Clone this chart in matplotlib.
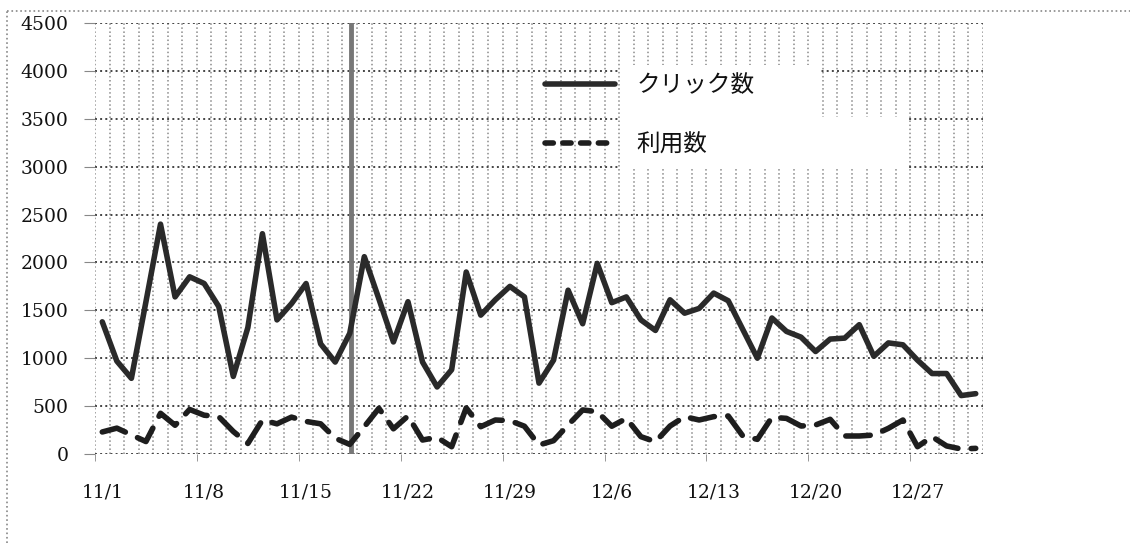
import numpy as np
import matplotlib.pyplot as plt
from matplotlib.patches import Rectangle
from matplotlib.lines import Line2D

# 11/1 - 12/31 の日別データ
clicks = [1380, 970, 790, 1590, 2400, 1640, 1850, 1780, 1540, 810,
          1320, 2300, 1400, 1570, 1780, 1150, 960, 1260, 2060, 1620,
          1170, 1590, 960, 700, 880, 1900, 1450, 1610, 1750, 1640,
          740, 980, 1710, 1360, 1990, 1580, 1640, 1400, 1290, 1610,
          1470, 1520, 1680, 1600, 1300, 1000, 1420, 1280, 1220, 1070,
          1200, 1210, 1350, 1020, 1160, 1140, 980, 840, 840, 610, 630]
usage = [230, 270, 200, 130, 425, 300, 465, 405, 390, 235,
         110, 355, 315, 385, 340, 315, 165, 100, 285, 477,
         263, 397, 146, 174, 76, 481, 285, 355, 348, 290,
         94, 139, 303, 460, 442, 290, 372, 181, 128, 292,
         390, 355, 390, 397, 188, 153, 383, 372, 292, 303,
         362, 188, 188, 198, 268, 355, 76, 181, 84, 52, 59]
x_labels = ['11/1', '11/8', '11/15', '11/22', '11/29', '12/6', '12/13', '12/20', '12/27']
y_ticks = [0, 500, 1000, 1500, 2000, 2500, 3000, 3500, 4000, 4500]
marker_day = 17.1   # 縦線の位置

days = np.arange(len(clicks))

fig = plt.figure(figsize=(11.3, 5.43), dpi=100)
ax = fig.add_axes([95/1130, 1-454/543, 888/1130, 431/543])

# 枠線
fig.add_artist(Line2D([7/1130, 7/1130], [0, 1-11/543], color='#888888', lw=1.2, ls=':'))
fig.add_artist(Line2D([7/1130, 1], [1-11/543, 1-11/543], color='#888888', lw=1.2, ls=':'))

# グリッド
ax.vlines(np.arange(-0.5, len(clicks)), 0, 4500, colors='#8a8a8a', linestyles=':', lw=1.1, zorder=1)
ax.set_yticks(y_ticks)
ax.yaxis.grid(True, color='#444444', ls=':', lw=1.4, zorder=1)

# 凡例の白い背景
ax.add_patch(Rectangle((0.591, 0.782), 0.225, 0.121, transform=ax.transAxes,
                       facecolor='white', edgecolor='none', zorder=2))
ax.add_patch(Rectangle((0.591, 0.664), 0.324, 0.118, transform=ax.transAxes,
                       facecolor='white', edgecolor='none', zorder=2))

ax.axvline(marker_day, color='#777777', lw=3.5, zorder=3)

ax.plot(days, clicks, color='#2a2a2a', lw=4, solid_joinstyle='round',
        solid_capstyle='round', label='クリック数', zorder=4)
ax.plot(days, usage, color='#1e1e1e', lw=4, dashes=(4.4, 2.4),
        dash_capstyle='round', dash_joinstyle='round', label='利用数', zorder=4)

ax.set_xlim(-0.5, len(clicks) - 0.5)
ax.set_ylim(0, 4500)

for s in ax.spines.values():
    s.set_visible(False)

ax.set_xticks(days[::7], x_labels)
ax.tick_params(axis='x', which='major', length=0, pad=21)
ax.set_xticks(np.arange(-0.5, len(clicks), 7), minor=True)
ax.tick_params(axis='x', which='minor', length=5, color='#888888', direction='out')
ax.tick_params(axis='y', length=8, color='#888888', direction='out', pad=11)
for lab in ax.get_xticklabels() + ax.get_yticklabels():
    lab.set_fontfamily('DejaVu Serif')
    lab.set_fontsize(13.5)
    lab.set_color('#111111')

leg = ax.legend(loc='upper left', bbox_to_anchor=(0.507, 0.882), frameon=False,
                prop={'family': 'Noto Sans CJK JP', 'size': 17},
                handlelength=2.97, handletextpad=0.89, labelspacing=1.55,
                borderpad=0, borderaxespad=0)
for t in leg.get_texts():
    t.set_color('#111111')
leg.get_lines()[1].set_dashes((1.5, 1.7))

fig.savefig('out.png', dpi=100)
